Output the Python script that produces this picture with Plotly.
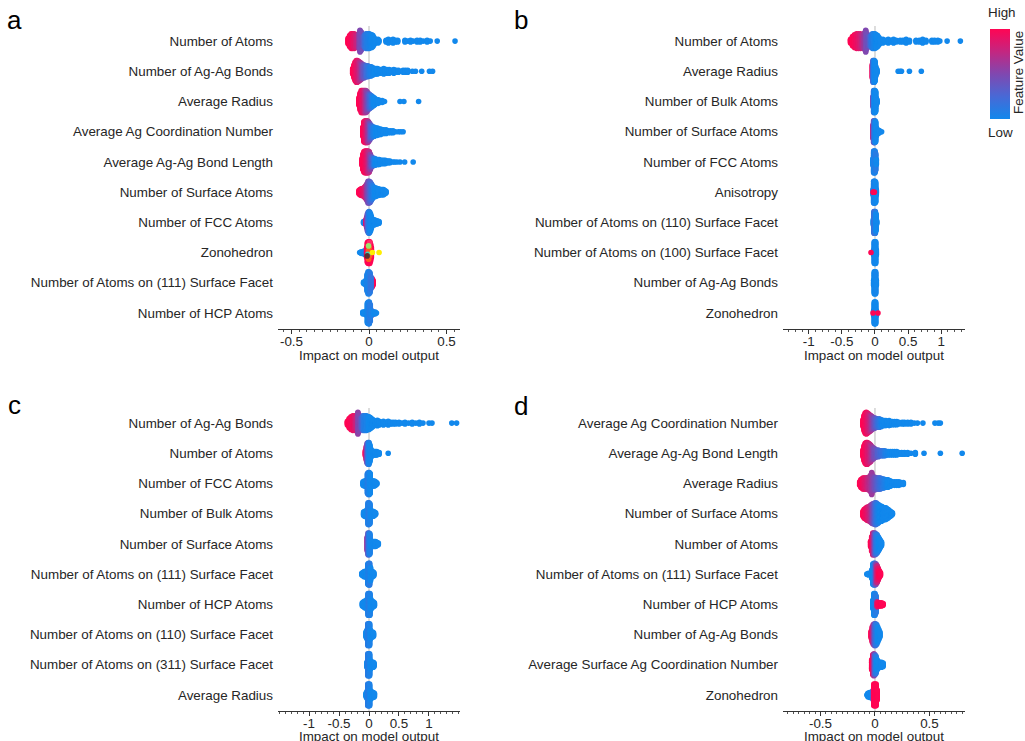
import plotly.graph_objects as go

# ---------------- data ----------------
# each row: list of (shap value, half-stack count, feature value 0=low..1=high)
A_FEATURES = ["Number of Atoms", "Number of Ag-Ag Bonds", "Average Radius",
              "Average Ag Coordination Number", "Average Ag-Ag Bond Length",
              "Number of Surface Atoms", "Number of FCC Atoms", "Zonohedron",
              "Number of Atoms on (111) Surface Facet", "Number of HCP Atoms"]
A_SHAP = [
    [(-0.135,3,1.0),(-0.125,6,1.0),(-0.115,8,0.97),(-0.105,8,0.93),(-0.095,8,0.88),(-0.085,7,0.82),(-0.075,6,0.75),(-0.065,8,0.6),(-0.058,12,0.5),(-0.05,10,0.45),(-0.042,5,0.4),(-0.035,5,0.3),(-0.027,7,0.2),(-0.02,8,0.15),(-0.012,8,0.1),(-0.005,8,0.08),(0.003,8,0.05),(0.01,7,0.03),(0.018,7,0.02),(0.025,6,0),(0.032,4,0),(0.04,2,0),(0.058,2,0),(0.064,1,0),(0.11,1,0),(0.125,2,0),(0.14,1,0),(0.155,2,0),(0.17,1,0),(0.185,1,0),(0.232,1,0),(0.25,0,0),(0.268,1,0),(0.285,0,0),(0.31,1,0),(0.33,1,0),(0.35,0,0),(0.375,1,0),(0.395,0,0),(0.44,0,0),(0.555,0,0)],
    [(-0.105,3,1),(-0.097,7,1),(-0.09,10,0.97),(-0.082,12,0.92),(-0.075,12,0.87),(-0.067,11,0.8),(-0.06,10,0.72),(-0.052,9,0.65),(-0.045,8,0.55),(-0.037,7,0.45),(-0.03,7,0.38),(-0.022,6,0.3),(-0.015,6,0.22),(-0.007,6,0.18),(0.0,5,0.12),(0.008,5,0.08),(0.015,5,0.05),(0.025,4,0.02),(0.035,3,0),(0.045,3,0),(0.055,3,0),(0.065,2,0),(0.075,2,0),(0.085,2,0),(0.095,3,0),(0.105,2,0),(0.115,2,0),(0.13,2,0),(0.145,1,0),(0.16,2,0),(0.175,1,0),(0.19,1,0),(0.22,1,0),(0.235,1,0),(0.25,1,0),(0.28,0,0),(0.3,0,0),(0.34,0,0),(0.39,0,0),(0.41,0,0)],
    [(-0.065,4,1),(-0.058,9,1),(-0.05,12,0.97),(-0.043,12,0.92),(-0.035,12,0.85),(-0.028,12,0.75),(-0.02,12,0.65),(-0.013,11,0.55),(-0.005,9,0.45),(0.003,8,0.3),(0.01,7,0.2),(0.018,6,0.1),(0.025,5,0.05),(0.033,4,0),(0.04,3,0),(0.05,2,0),(0.06,2,0),(0.07,1,0),(0.085,1,0),(0.1,0,0),(0.2,0,0),(0.225,0,0),(0.32,0,0)],
    [(-0.04,5,1),(-0.033,11,1),(-0.025,12,0.95),(-0.018,12,0.88),(-0.01,12,0.75),(-0.003,11,0.6),(0.005,9,0.45),(0.012,7,0.3),(0.02,6,0.2),(0.028,5,0.1),(0.035,5,0.05),(0.045,4,0),(0.055,4,0),(0.065,3,0),(0.075,3,0),(0.085,2,0),(0.095,2,0),(0.11,2,0),(0.125,1,0),(0.14,1,0),(0.155,1,0),(0.17,0,0),(0.19,0,0),(0.205,0,0),(0.22,0,0)],
    [(-0.045,4,1),(-0.04,9,1),(-0.033,12,1),(-0.026,13,0.97),(-0.019,13,0.93),(-0.012,13,0.88),(-0.005,13,0.8),(0.002,12,0.7),(0.009,9,0.55),(0.016,6,0.4),(0.023,5,0.3),(0.03,4,0.15),(0.038,4,0.05),(0.046,3,0),(0.055,3,0),(0.065,3,0),(0.075,2,0),(0.085,2,0),(0.095,2,0),(0.105,2,0),(0.115,1,0),(0.125,1,0),(0.135,1,0),(0.155,0,0),(0.165,0,0),(0.18,0,0),(0.2,0,0),(0.23,0,0),(0.285,0,0)],
    [(-0.065,2,1),(-0.058,3,1),(-0.05,4,1),(-0.043,4,0.95),(-0.035,5,0.9),(-0.028,6,0.85),(-0.02,8,0.75),(-0.013,10,0.6),(-0.006,13,0.5),(0.001,13,0.4),(0.008,12,0.3),(0.015,10,0.2),(0.022,8,0.1),(0.03,6,0.05),(0.038,5,0),(0.046,5,0),(0.054,4,0),(0.062,4,0),(0.07,3,0),(0.078,3,0),(0.086,3,0),(0.094,3,0),(0.102,2,0),(0.11,1,0)],
    [(-0.035,1,0),(-0.02,3,0.9),(-0.015,6,0.7),(-0.01,10,0.45),(-0.005,12,0.25),(0.0,13,0.1),(0.005,12,0.05),(0.01,10,0),(0.015,7,0),(0.02,4,0),(0.028,3,0),(0.036,3,0),(0.044,2,0),(0.052,2,0),(0.06,1,0),(0.065,1,0)],
    [(-0.06,0,0),(-0.05,1,0),(-0.04,1,0),(-0.03,2,0),(-0.015,6,1),(-0.01,12,1),(-0.005,13,1),(0.0,13,1),(0.005,13,1),(0.01,10,1),(0.015,6,1)],
    [(-0.035,1,0),(-0.028,1,0),(-0.02,3,0),(0.02,5,0.9),(0.026,3,1),(-0.012,10,0.05),(-0.006,13,0.05),(0.0,13,0.05),(0.006,12,0.1),(0.012,7,0.15)],
    [(-0.04,1,0),(-0.03,1,0),(-0.02,2,0),(0.022,2,0.8),(-0.01,12,0),(-0.004,13,0.05),(0.002,13,0.05),(0.008,10,0.1),(0.015,3,0.05),(0.03,1,0),(0.04,1,0),(0.048,0,0)],
]
# Zonohedron (panel a) categorical points drawn in their own colours: (shap, stack step, colour)
A_ZONO_EXTRA = [(-0.002,-4,"#ff5a1f"),(0.004,-2,"#ff5a1f"),(0.0,-1,"#ff5a1f"),(0.006,0,"#ff5a1f"),(-0.004,1,"#ff5a1f"),(0.002,3,"#ff5a1f"),
                (0.004,6,"#ff2a6a"),(-0.003,4,"#9be36a"),(-0.008,-1,"#3fd0c0"),(-0.012,-2,"#5a3030"),
                (0.022,0,"#ffee00"),(0.065,0,"#ffee00")]

B_FEATURES = ["Number of Atoms", "Average Radius", "Number of Bulk Atoms",
              "Number of Surface Atoms", "Number of FCC Atoms", "Anisotropy",
              "Number of Atoms on (110) Surface Facet", "Number of Atoms on (100) Surface Facet",
              "Number of Ag-Ag Bonds", "Zonohedron"]
B_SHAP = [
    [(-0.37,2,1),(-0.34,5,1),(-0.31,7,0.97),(-0.28,8,0.93),(-0.25,8,0.88),(-0.22,8,0.8),(-0.19,7,0.7),(-0.16,9,0.6),(-0.14,12,0.5),(-0.12,8,0.45),(-0.1,5,0.4),(-0.08,5,0.3),(-0.06,6,0.2),(-0.04,8,0.1),(-0.02,8,0.05),(0.0,8,0.03),(0.02,7,0),(0.04,6,0),(0.06,4,0),(0.08,2,0),(0.12,2,0),(0.15,1,0),(0.2,2,0),(0.24,1,0),(0.28,2,0),(0.32,1,0),(0.38,1,0),(0.42,1,0),(0.47,2,0),(0.52,1,0),(0.62,1,0),(0.67,1,0),(0.72,2,0),(0.77,1,0),(0.86,1,0),(0.9,1,0),(0.95,1,0),(0.98,0,0),(1.09,0,0),(1.29,0,0)],
    [(-0.04,8,0.9),(-0.03,13,0.3),(-0.02,13,0.1),(-0.01,13,0.05),(0.0,12,0),(0.01,6,0),(0.02,3,0),(0.03,2,0),(0.35,0,0),(0.38,0,0),(0.4,0,0),(0.52,0,0),(0.7,0,0)],
    [(-0.03,6,0.5),(-0.02,13,0.2),(-0.01,13,0.05),(0.0,13,0),(0.01,12,0),(0.02,4,0),(0.03,2,0)],
    [(-0.03,8,0.7),(-0.02,13,0.5),(-0.01,13,0.2),(0.0,13,0.1),(0.01,12,0),(0.02,5,0),(0.035,2,0),(0.05,2,0),(0.07,1,0),(0.1,0,0)],
    [(-0.03,4,0),(-0.02,13,0.1),(-0.01,13,0.05),(0.0,13,0.05),(0.01,10,0.1),(0.02,3,0)],
    [(-0.03,3,0),(-0.02,13,0),(-0.01,13,0.05),(0.0,13,0.05),(0.01,12,0),(0.02,3,0),(-0.03,0,1),(-0.01,0,1)],
    [(-0.025,3,0),(-0.015,13,0.1),(-0.005,13,0.35),(0.005,13,0.1),(0.015,10,0),(0.025,2,0)],
    [(-0.02,3,0),(-0.01,13,0),(0.0,13,0.05),(0.01,13,0),(0.02,3,0),(-0.06,0,1)],
    [(-0.02,3,0),(-0.01,13,0),(0.0,13,0),(0.01,13,0.02),(0.02,3,0)],
    [(-0.02,3,0),(-0.01,13,0),(0.0,13,0),(0.01,13,0),(0.02,3,0),(-0.03,0,1),(0.045,0,1)],
]

C_FEATURES = ["Number of Ag-Ag Bonds", "Number of Atoms", "Number of FCC Atoms",
              "Number of Bulk Atoms", "Number of Surface Atoms",
              "Number of Atoms on (111) Surface Facet", "Number of HCP Atoms",
              "Number of Atoms on (110) Surface Facet", "Number of Atoms on (311) Surface Facet",
              "Average Radius"]
C_SHAP = [
    [(-0.36,2,1),(-0.33,5,1),(-0.3,7,0.97),(-0.27,8,0.93),(-0.24,8,0.87),(-0.21,6,0.75),(-0.185,12,0.55),(-0.165,9,0.5),(-0.14,5,0.4),(-0.12,6,0.3),(-0.1,8,0.2),(-0.08,8,0.1),(-0.06,8,0.07),(-0.04,8,0.05),(-0.02,7,0.03),(0.0,7,0),(0.02,6,0),(0.04,5,0),(0.06,4,0),(0.08,3,0),(0.11,2,0),(0.14,3,0),(0.17,2,0),(0.2,1,0),(0.24,2,0),(0.28,1,0),(0.32,2,0),(0.36,1,0),(0.4,1,0),(0.44,1,0),(0.5,1,0),(0.55,0,0),(0.6,1,0),(0.66,0,0),(0.72,1,0),(0.78,0,0),(0.84,1,0),(0.9,0,0),(1.0,0,0),(1.05,0,0),(1.38,0,0),(1.46,0,0)],
    [(-0.06,3,1),(-0.045,8,0.8),(-0.03,12,0.45),(-0.015,13,0.2),(0.0,13,0.05),(0.015,10,0),(0.03,5,0),(0.05,3,0),(0.07,2,0),(0.09,2,0),(0.11,2,0),(0.13,2,0),(0.15,1,0),(0.17,1,0),(0.32,0,0)],
    [(-0.1,2,0),(-0.08,3,0),(-0.06,3,0),(-0.04,4,0),(-0.025,12,0.05),(-0.01,13,0.1),(0.005,13,0.05),(0.02,12,0),(0.035,4,0),(0.05,3,0),(0.07,3,0),(0.09,3,0),(0.11,2,0),(0.13,1,0)],
    [(-0.09,2,0),(-0.07,3,0),(-0.05,3,0),(-0.03,5,0),(-0.015,13,0.05),(0.0,13,0.1),(0.015,12,0.05),(0.03,4,0),(0.05,3,0),(0.07,3,0),(0.09,2,0),(0.11,1,0)],
    [(-0.03,8,0.6),(-0.015,13,0.35),(0.0,13,0.15),(0.015,12,0.05),(0.03,3,0),(0.05,3,0),(0.07,3,0),(0.09,3,0),(0.11,3,0),(0.13,2,0),(0.155,1,0)],
    [(-0.12,1,0),(-0.1,2,0),(-0.08,3,0),(-0.06,3,0),(-0.04,4,0),(-0.02,12,0.05),(-0.005,13,0.05),(0.01,13,0.1),(0.025,8,0),(0.04,3,0),(0.06,3,0),(0.08,2,0)],
    [(-0.11,2,0),(-0.09,3,0),(-0.07,4,0),(-0.05,4,0),(-0.03,6,0),(-0.015,13,0.05),(0.0,13,0.1),(0.015,13,0.05),(0.03,6,0),(0.05,4,0),(0.07,3,0),(0.09,2,0)],
    [(-0.05,3,0),(-0.035,5,0),(-0.02,13,0.1),(-0.005,13,0.1),(0.01,13,0.05),(0.025,5,0),(0.04,3,0),(0.06,3,0),(0.075,2,0)],
    [(-0.035,3,0),(-0.02,13,0.1),(-0.005,13,0.1),(0.01,13,0.05),(0.025,5,0),(0.04,3,0),(0.055,3,0),(0.07,3,0),(0.085,2,0)],
    [(-0.05,2,0),(-0.035,4,0),(-0.02,13,0.1),(-0.005,13,0.1),(0.01,13,0.05),(0.025,5,0),(0.04,4,0),(0.055,3,0),(0.07,3,0),(0.09,2,0)],
]

D_FEATURES = ["Average Ag Coordination Number", "Average Ag-Ag Bond Length", "Average Radius",
              "Number of Surface Atoms", "Number of Atoms",
              "Number of Atoms on (111) Surface Facet", "Number of HCP Atoms",
              "Number of Ag-Ag Bonds", "Average Surface Ag Coordination Number", "Zonohedron"]
D_SHAP = [
    [(-0.11,4,1),(-0.1,9,1),(-0.09,12,0.98),(-0.08,13,0.95),(-0.07,12,0.9),(-0.06,11,0.85),(-0.05,10,0.78),(-0.04,9,0.7),(-0.03,8,0.62),(-0.02,7,0.55),(-0.01,6,0.47),(0.0,6,0.4),(0.01,5,0.33),(0.02,5,0.27),(0.03,4,0.2),(0.04,5,0.15),(0.05,4,0.1),(0.06,4,0.05),(0.07,3,0),(0.085,3,0),(0.1,3,0),(0.115,2,0),(0.13,3,0),(0.145,2,0),(0.16,2,0),(0.18,2,0),(0.2,2,0),(0.22,1,0),(0.25,1,0),(0.27,1,0),(0.3,1,0),(0.33,1,0),(0.36,0,0),(0.39,0,0),(0.44,0,0),(0.55,0,0),(0.58,0,0),(0.6,0,0)],
    [(-0.11,4,1),(-0.1,9,1),(-0.09,12,0.98),(-0.08,13,0.95),(-0.07,13,0.9),(-0.06,12,0.85),(-0.05,11,0.8),(-0.04,10,0.72),(-0.03,8,0.65),(-0.02,7,0.58),(-0.01,6,0.5),(0.0,5,0.45),(0.015,4,0.38),(0.03,4,0.3),(0.045,3,0.25),(0.06,3,0.2),(0.075,3,0.15),(0.09,3,0.1),(0.105,2,0.05),(0.12,2,0.03),(0.14,2,0),(0.16,2,0),(0.18,2,0),(0.2,2,0),(0.22,1,0),(0.245,1,0),(0.27,1,0),(0.3,1,0),(0.33,0,0),(0.37,1,0),(0.45,0,0),(0.6,0,0),(0.8,0,0)],
    [(-0.14,2,1),(-0.13,4,1),(-0.12,5,0.98),(-0.11,6,0.95),(-0.1,6,0.92),(-0.09,6,0.88),(-0.08,6,0.85),(-0.07,6,0.8),(-0.06,7,0.75),(-0.05,7,0.7),(-0.04,9,0.65),(-0.03,12,0.6),(-0.02,8,0.55),(-0.01,6,0.5),(0.0,7,0.45),(0.01,6,0.4),(0.02,6,0.35),(0.03,6,0.3),(0.04,6,0.25),(0.05,6,0.2),(0.06,5,0.17),(0.07,5,0.13),(0.08,5,0.1),(0.09,4,0.07),(0.1,4,0.05),(0.11,4,0.03),(0.12,4,0),(0.13,3,0),(0.14,3,0),(0.16,2,0),(0.18,2,0),(0.2,2,0),(0.22,2,0),(0.24,1,0),(0.26,1,0)],
    [(-0.11,3,1),(-0.1,5,1),(-0.09,6,0.97),(-0.08,7,0.93),(-0.07,8,0.9),(-0.06,8,0.85),(-0.05,9,0.78),(-0.04,10,0.7),(-0.03,11,0.6),(-0.02,12,0.5),(-0.01,12,0.4),(0.0,13,0.3),(0.01,13,0.2),(0.02,12,0.12),(0.03,11,0.07),(0.04,10,0.03),(0.05,9,0),(0.06,9,0),(0.07,8,0),(0.08,7,0),(0.09,7,0),(0.1,7,0),(0.11,6,0),(0.12,5,0),(0.13,4,0),(0.14,3,0),(0.15,2,0),(0.16,1,0)],
    [(-0.04,3,1),(-0.03,8,0.95),(-0.02,12,0.8),(-0.01,12,0.6),(0.0,12,0.4),(0.01,11,0.2),(0.02,10,0.1),(0.03,8,0.05),(0.04,6,0),(0.05,4,0),(0.06,2,0)],
    [(-0.075,0,0),(-0.06,1,0),(-0.03,5,0),(-0.02,12,0),(-0.01,13,0.05),(0.0,13,0.2),(0.01,12,0.5),(0.02,10,0.75),(0.03,7,0.9),(0.04,4,1),(0.05,2,1)],
    [(-0.02,5,0),(-0.01,13,0),(0.0,13,0.05),(0.01,10,0.1),(0.02,3,0.8),(0.03,2,1),(0.045,2,1),(0.06,2,1),(0.075,1,1)],
    [(-0.035,4,1),(-0.025,9,0.9),(-0.015,12,0.7),(-0.005,13,0.4),(0.005,13,0.2),(0.015,12,0.1),(0.025,9,0),(0.035,6,0),(0.045,3,0)],
    [(-0.03,6,1),(-0.02,12,0.9),(-0.01,13,0.6),(0.0,12,0.3),(0.01,10,0.1),(0.02,6,0),(0.03,4,0),(0.045,3,0),(0.06,3,0),(0.075,2,0)],
    [(-0.075,0,0),(-0.065,2,0),(-0.05,3,0),(-0.035,3,0),(-0.02,5,0.3),(-0.01,13,1),(0.0,13,1),(0.01,13,1),(0.02,6,1)],
]

A_XTICKS = [-0.5, 0, 0.5]
B_XTICKS = [-1, -0.5, 0, 0.5, 1]
C_XTICKS = [-1, -0.5, 0, 0.5, 1]
D_XTICKS = [-0.5, 0, 0.5]

# ---------------- styling ----------------
W, H = 1025, 741
FONT = "Liberation Sans, Arial, sans-serif"
TXT = "#262626"
FS = 13.4
RED_BLUE = [[0.0, "rgb(18,136,236)"], [0.25, "rgb(72,105,214)"], [0.5, "rgb(128,72,176)"],
            [0.75, "rgb(196,38,128)"], [1.0, "rgb(255,5,84)"]]
ROW_H = 0.36


def swarm(rows):
    n = len(rows)
    xs, ys, cs = [], [], []
    for i, row in enumerate(rows):
        yc = n - 1 - i
        maxn = max(max(r[1] for r in row), 1)
        step = ROW_H / maxn
        for (x, k, c) in row:
            for j in range(-k, k + 1):
                xs.append(x)
                ys.append(yc + j * step)
                cs.append(c)
    return xs, ys, cs


def px_x(p):
    return p / W


def px_y(p):
    return 1 - p / H


panels = [
    # features, shap, xticks, x-dom px, x-range, y-dom px, minor dtick, title y px
    (A_FEATURES, A_SHAP, A_XTICKS, (278, 460), (-0.587, 0.587), (26, 329), 0.05, 355),
    (B_FEATURES, B_SHAP, B_XTICKS, (783, 965), (-1.39, 1.36), (26, 329), 0.1, 355),
    (C_FEATURES, C_SHAP, C_XTICKS, (278, 460), (-1.517, 1.517), (408, 711), 0.1, 736),
    (D_FEATURES, D_SHAP, D_XTICKS, (783, 965), (-0.844, 0.826), (408, 711), 0.05, 736),
]

fig = go.Figure()
layout = dict(width=W, height=H, margin=dict(l=0, r=0, t=0, b=0),
              paper_bgcolor="white", plot_bgcolor="white", showlegend=False,
              font=dict(family=FONT, size=FS, color=TXT),
              coloraxis=dict(colorscale=RED_BLUE, cmin=0, cmax=1,
                             colorbar=dict(x=px_x(990), xanchor="left", xpad=0,
                                           y=px_y(74), yanchor="middle", ypad=0,
                                           lenmode="pixels", len=90, thickness=20,
                                           showticklabels=False, ticks="",
                                           outlinewidth=0)))
shapes = []
annotations = []
for k, (feats, shap, xt, xd, xr, yd, mdt, ty) in enumerate(panels):
    sfx = "" if k == 0 else str(k + 1)
    xs, ys, cs = swarm(shap)
    fig.add_trace(go.Scatter(x=xs, y=ys, mode="markers", xaxis="x" + sfx, yaxis="y" + sfx,
                             marker=dict(size=5.6, color=cs, coloraxis="coloraxis",
                                         line=dict(width=0)),
                             hoverinfo="skip"))
    layout["xaxis" + sfx] = dict(domain=[px_x(xd[0]), px_x(xd[1])], range=list(xr),
                                 anchor="y" + sfx, showgrid=False, zeroline=False,
                                 showline=True, linecolor="#333", linewidth=1,
                                 ticks="outside", ticklen=4, tickcolor="#333",
                                 tickmode="array", tickvals=xt,
                                 ticktext=[("%g" % v) for v in xt],
                                 ticklabelstandoff=-4,
                                 tickfont=dict(size=FS, color=TXT),
                                 minor=dict(tickmode="linear", tick0=0, dtick=mdt,
                                            ticks="outside", ticklen=2, tickcolor="#555"))
    n = len(feats)
    layout["yaxis" + sfx] = dict(domain=[px_y(yd[1]), px_y(yd[0])], range=[-0.53, n - 0.5],
                                 anchor="x" + sfx, showgrid=False, zeroline=False,
                                 showline=False, ticks="", tickmode="array",
                                 tickvals=list(range(n)), ticktext=feats[::-1],
                                 ticklabelstandoff=4,
                                 tickfont=dict(size=FS, color=TXT))
    shapes.append(dict(type="line", xref="x" + sfx, yref="y" + sfx + " domain",
                       x0=0, x1=0, y0=0, y1=1, line=dict(color="#bbbbbb", width=1),
                       layer="below"))
    annotations.append(dict(text="Impact on model output", xref="x" + sfx + " domain", x=0.5,
                            yref="paper", y=px_y(ty), xanchor="center", yanchor="middle",
                            showarrow=False, font=dict(size=FS, color=TXT)))

# categorical colours for Zonohedron in panel a
zrow = A_FEATURES.index("Zonohedron")
zy = len(A_FEATURES) - 1 - zrow
zstep = ROW_H / max(r[1] for r in A_SHAP[zrow])
fig.add_trace(go.Scatter(x=[e[0] for e in A_ZONO_EXTRA],
                         y=[zy + e[1] * zstep * 2 for e in A_ZONO_EXTRA],
                         mode="markers", xaxis="x", yaxis="y",
                         marker=dict(size=5.6, color=[e[2] for e in A_ZONO_EXTRA], line=dict(width=0)),
                         hoverinfo="skip"))

for lab, x, y in [("a", 14, 20), ("b", 521, 20), ("c", 14, 405), ("d", 521, 406)]:
    annotations.append(dict(text=lab, x=px_x(x), y=px_y(y), xref="paper", yref="paper",
                            xanchor="center", yanchor="middle",
                            showarrow=False, font=dict(size=26, color="black")))
for txt, x, y, ang in [("High", 1002, 12, 0), ("Low", 1000, 132, 0), ("Feature Value", 1018, 73, -90)]:
    annotations.append(dict(text=txt, x=px_x(x), y=px_y(y), xref="paper", yref="paper",
                            xanchor="center", yanchor="middle", textangle=ang,
                            showarrow=False, font=dict(size=FS, color=TXT)))

layout["shapes"] = shapes
layout["annotations"] = annotations
fig.update_layout(**layout)
fig.write_html("out.html", config={"displayModeBar": False},
               post_script="document.body.style.margin='0';document.body.style.overflow='hidden';")
